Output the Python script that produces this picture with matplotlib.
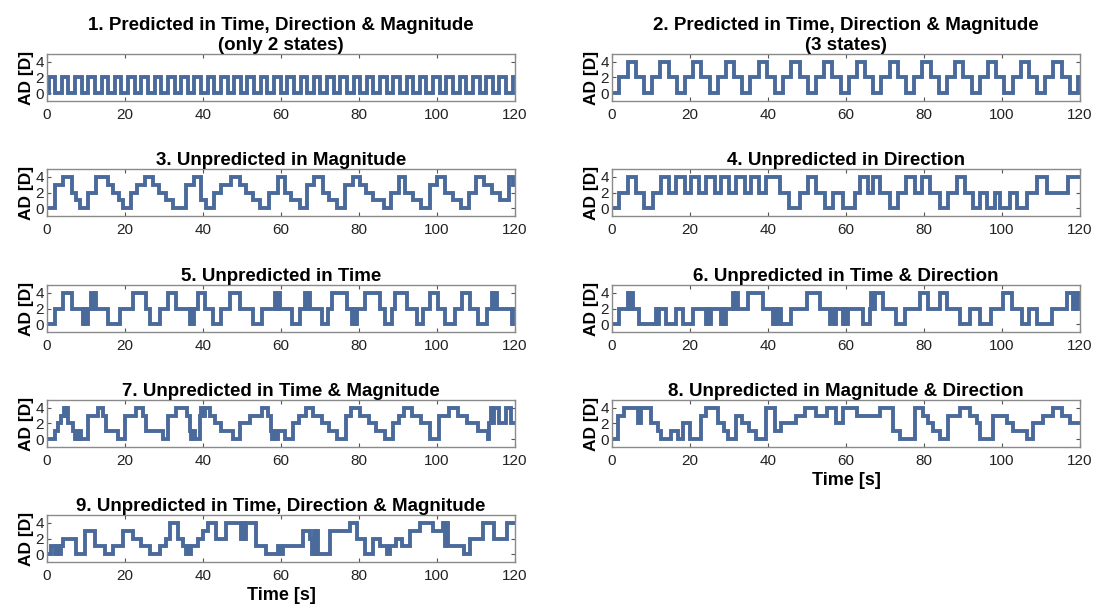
import numpy as np
from matplotlib import pyplot as plt

plt.rcParams['font.family'] = ['Liberation Sans', 'DejaVu Sans']

# each signal: switch times [s] and the level [D] that starts at that time
t1 = [0, 0.4, 2.1, 3.8, 5.5, 7.2, 8.9, 10.6, 12.3, 14.0, 15.7, 17.4, 19.1, 20.8, 22.5,
      24.2, 25.9, 27.6, 29.3, 31.0, 32.7, 34.4, 36.1, 37.8, 39.5, 41.2, 42.9, 44.6, 46.3,
      48.0, 49.7, 51.4, 53.1, 54.8, 56.5, 58.2, 59.9, 61.6, 63.3, 65.0, 66.7, 68.4, 70.1,
      71.8, 73.5, 75.2, 76.9, 78.6, 80.3, 82.0, 83.7, 85.4, 87.1, 88.8, 90.5, 92.2, 93.9,
      95.6, 97.3, 99.0, 100.7, 102.4, 104.1, 105.8, 107.5, 109.2, 110.9, 112.6, 114.3,
      116.0, 117.7, 119.4]
v1 = [0, 2, 0, 2, 0, 2, 0, 2, 0, 2, 0, 2, 0, 2, 0, 2, 0, 2, 0, 2, 0, 2, 0, 2, 0, 2,
      0, 2, 0, 2, 0, 2, 0, 2, 0, 2, 0, 2, 0, 2, 0, 2, 0, 2, 0, 2, 0, 2, 0, 2, 0, 2, 0,
      2, 0, 2, 0, 2, 0, 2, 0, 2, 0, 2, 0, 2, 0, 2, 0, 2, 0, 2]

t2 = [0, 1.9, 4.0, 6.1, 8.2, 10.3, 12.4, 14.5, 16.6, 18.7, 20.8, 22.9, 25.0, 27.1, 29.2,
      31.3, 33.4, 35.5, 37.6, 39.7, 41.8, 43.9, 46.0, 48.1, 50.2, 52.3, 54.4, 56.5, 58.6,
      60.7, 62.8, 64.9, 67.0, 69.1, 71.2, 73.3, 75.4, 77.5, 79.6, 81.7, 83.8, 85.9, 88.0,
      90.1, 92.2, 94.3, 96.4, 98.5, 100.6, 102.7, 104.8, 106.9, 109.0, 111.1, 113.2,
      115.3, 117.4, 119.5]
v2 = [0, 2, 4, 2, 0, 2, 4, 2, 0, 2, 4, 2, 0, 2, 4, 2, 0, 2, 4, 2, 0, 2, 4, 2, 0, 2, 4,
      2, 0, 2, 4, 2, 0, 2, 4, 2, 0, 2, 4, 2, 0, 2, 4, 2, 0, 2, 4, 2, 0, 2, 4, 2, 0, 2, 4,
      2, 0, 2]

t3 = [0, 2.0, 4.1, 6.3, 7.4, 8.5, 10.6, 12.6, 15.6, 16.8, 18.4, 19.6, 21.6, 23.0, 25.0,
      27.2, 28.6, 30.4, 32.2, 35.6, 37.6, 39.6, 40.8, 42.8, 44.6, 47.2, 49.4, 51.0, 52.8,
      54.6, 56.8, 59.2, 61.0, 62.6, 64.8, 66.6, 68.4, 70.8, 72.4, 74.4, 76.4, 78.4, 80.2,
      81.8, 83.6, 86.4, 88.2, 90.2, 91.8, 93.8, 96.0, 98.2, 100.0, 102.0, 104.0, 106.2,
      108.2, 110.0, 112.0, 114.0, 116.2, 118.4, 119.6]
v3 = [0, 3, 4, 2, 1, 0, 2, 4, 3, 2, 1, 0, 2, 3, 4, 3, 2, 1, 0, 3, 4, 1, 0, 2, 3, 4, 3,
      2, 1, 0, 2, 4, 2, 1, 0, 3, 4, 2, 1, 0, 3, 4, 3, 2, 1, 0, 2, 4, 2, 1, 0, 3, 4, 2, 1,
      0, 2, 4, 3, 2, 1, 4, 3]

t4 = [0, 1.9, 4.0, 6.1, 8.2, 10.5, 12.6, 14.7, 16.4, 18.6, 20.3, 22.4, 24.1, 26.3, 28.0,
      30.1, 31.8, 34.0, 35.7, 37.8, 39.6, 43.0, 45.5, 48.1, 50.3, 52.4, 54.5, 56.7, 59.2,
      62.2, 63.5, 65.7, 67.0, 68.7, 71.2, 73.4, 75.5, 77.7, 79.4, 81.5, 84.1, 86.2, 88.4,
      90.5, 92.6, 94.4, 96.1, 98.2, 99.5, 102.1, 103.8, 106.3, 108.9, 111.5, 117.0]
v4 = [0, 2, 4, 2, 0, 2, 4, 2, 4, 2, 4, 2, 4, 2, 4, 2, 4, 2, 4, 2, 4, 2, 0, 2, 4, 2, 0,
      2, 0, 2, 4, 2, 4, 2, 0, 2, 4, 2, 4, 2, 0, 2, 4, 2, 0, 2, 0, 2, 0, 2, 0, 2, 4, 2, 4]

t5 = [0, 2.0, 4.1, 6.3, 9.2, 9.6, 10.0, 10.4, 10.9, 11.4, 11.8, 12.2, 12.6, 13.1, 15.7,
      18.6, 22.1, 25.5, 26.3, 28.9, 31.0, 33.2, 36.6, 37.0, 37.4, 37.8, 38.3, 38.8, 40.5,
      42.6, 44.7, 46.9, 49.4, 52.9, 55.0, 58.4, 58.8, 59.2, 59.7, 62.7, 64.8, 66.1, 66.6,
      67.0, 67.5, 68.3, 70.4, 72.1, 73.0, 76.8, 78.1, 78.5, 78.9, 79.4, 80.2, 81.5, 85.4,
      86.7, 88.4, 89.2, 92.2, 94.8, 96.5, 98.2, 100.3, 102.0, 104.6, 106.3, 108.5, 110.6,
      112.7, 114.0, 114.5, 115.0, 115.5, 116.2, 119.2, 119.5]
v5 = [0, 2, 4, 2, 0, 2, 0, 2, 2, 4, 2, 4, 2, 2, 0, 2, 4, 2, 0, 2, 4, 2, 0, 2, 0, 2,
      2, 4, 2, 0, 2, 4, 2, 0, 2, 4, 2, 4, 2, 0, 2, 4, 2, 4, 2, 2, 0, 2, 4, 2, 0, 2, 0,
      2, 2, 4, 2, 0, 2, 4, 2, 0, 2, 4, 2, 0, 2, 4, 2, 0, 2, 4, 2, 4, 2, 2, 0, 2]

t6 = [0, 1.9, 4.0, 4.5, 5.0, 5.3, 7.0, 11.3, 11.7, 12.1, 12.6, 13.9, 16.4, 18.2, 20.7,
      24.1, 24.5, 24.9, 25.4, 28.0, 28.4, 28.8, 29.3, 31.0, 31.4, 31.8, 32.2, 32.7, 34.8,
      38.7, 41.3, 41.7, 42.1, 42.6, 43.4, 46.0, 49.9, 53.3, 55.8, 56.7, 57.1, 57.5, 59.2,
      59.6, 60.0, 60.5, 64.4, 66.1, 66.5, 66.9, 67.4, 69.5, 72.9, 75.1, 78.9, 81.1, 84.1,
      85.8, 89.2, 91.8, 94.3, 97.3, 100.3, 102.5, 105.1, 106.8, 108.9, 112.8, 116.6,
      118.3, 118.7, 119.1, 119.5]
v6 = [0, 2, 4, 2, 4, 2, 0, 2, 0, 2, 2, 0, 2, 0, 2, 0, 2, 0, 2, 0, 2, 0, 2, 4, 2, 4,
      2, 2, 4, 2, 0, 2, 0, 2, 0, 2, 4, 2, 0, 2, 0, 2, 0, 2, 0, 2, 0, 2, 4, 2, 4, 2, 0,
      2, 4, 2, 4, 2, 0, 2, 0, 2, 4, 2, 0, 2, 0, 2, 4, 2, 4, 2, 4, 4]

t7 = [0, 2.0, 2.9, 3.6, 4.3, 4.7, 5.1, 5.4, 6.7, 7.2, 7.6, 8.0, 8.4, 8.8, 10.5, 13.1,
      14.4, 15.2, 18.2, 20.0, 22.9, 24.6, 25.5, 29.8, 31.0, 33.2, 35.8, 36.6, 37.0, 37.4,
      38.0, 39.2, 39.6, 40.0, 40.5, 41.7, 43.0, 44.7, 47.7, 49.4, 52.0, 55.0, 56.6, 57.4,
      57.8, 58.2, 58.6, 59.2, 61.0, 63.2, 64.6, 66.4, 68.2, 70.4, 72.2, 74.4, 76.6, 78.0,
      80.2, 82.6, 84.4, 86.6, 88.8, 90.2, 91.6, 93.6, 96.0, 98.2, 100.6, 103.0, 105.4,
      107.6, 110.6, 113.0, 113.4, 113.8, 114.2, 114.6, 115.8, 117.6, 119.0]
v7 = [0, 1, 2, 3, 4, 3, 4, 2, 1, 0, 1, 0, 1, 0, 3, 4, 3, 1, 0, 3, 4, 3, 1, 0, 3, 4,
      3, 1, 0, 1, 0, 3, 4, 3, 4, 3, 2, 1, 0, 2, 3, 4, 3, 1, 0, 1, 0, 1, 0, 2, 3, 4, 3,
      2, 1, 0, 3, 4, 3, 2, 1, 0, 2, 3, 4, 3, 2, 0, 3, 4, 3, 2, 1, 0, 2, 4, 2, 4, 2, 4,
      2, 1]

t8 = [0, 1.5, 3.2, 6.6, 7.4, 10.0, 11.7, 12.6, 15.2, 16.9, 18.2, 19.9, 22.9, 24.1,
      27.1, 28.8, 29.7, 31.8, 33.4, 35.0, 37.0, 39.6, 41.7, 43.4, 47.3, 49.4, 52.4, 55.0,
      57.5, 59.2, 62.7, 68.7, 72.1, 73.8, 77.7, 79.8, 81.1, 82.4, 84.0, 86.2, 89.2, 91.8,
      93.5, 94.3, 97.8, 101.2, 102.9, 106.3, 108.0, 110.6, 113.2, 115.3, 117.4]
v8 = [0, 3, 4, 2, 4, 2, 1, 0, 1, 0, 2, 0, 3, 4, 2, 1, 0, 3, 2, 1, 0, 4, 1, 2, 3, 4,
      3, 4, 2, 4, 3, 4, 1, 0, 4, 3, 2, 1, 0, 3, 4, 3, 2, 0, 3, 2, 1, 0, 2, 3, 4, 3, 2]

t9 = [0, 1.1, 2.0, 2.6, 3.2, 3.6, 4.1, 7.5, 9.7, 12.2, 14.8, 16.9, 19.5, 22.1, 24.2,
      26.3, 28.9, 30.6, 31.5, 33.6, 34.9, 35.7, 36.2, 36.6, 37.0, 38.7, 40.0, 41.3, 43.4,
      46.0, 49.8, 50.2, 50.6, 51.0, 53.7, 56.2, 59.2, 59.8, 60.4, 61.0, 65.7, 67.5, 68.0,
      68.4, 68.8, 69.2, 69.6, 72.5, 77.7, 79.4, 81.5, 83.7, 85.4, 87.1, 88.0, 89.6, 91.0,
      93.0, 95.6, 99.0, 101.6, 102.0, 102.4, 102.9, 104.2, 106.8, 108.5, 111.9, 114.5,
      117.9]
v9 = [0, 1, 0, 1, 0, 1, 2, 0, 3, 1, 0, 1, 3, 2, 1, 0, 1, 2, 4, 2, 1, 0, 1, 0, 1, 2,
      3, 4, 2, 4, 2, 4, 2, 4, 1, 0, 1, 0, 1, 1, 3, 2, 0, 3, 0, 3, 0, 3, 4, 2, 0, 2, 1,
      0, 1, 2, 1, 3, 4, 3, 4, 1, 4, 1, 1, 0, 2, 4, 2, 4, 2]

titles = ["1. Predicted in Time, Direction & Magnitude\n(only 2 states)",
          "2. Predicted in Time, Direction & Magnitude\n(3 states)",
          "3. Unpredicted in Magnitude",
          "4. Unpredicted in Direction",
          "5. Unpredicted in Time",
          "6. Unpredicted in Time & Direction",
          "7. Unpredicted in Time & Magnitude",
          "8. Unpredicted in Magnitude & Direction",
          "9. Unpredicted in Time, Direction & Magnitude"]
signals = [(t1, v1), (t2, v2), (t3, v3), (t4, v4), (t5, v5),
           (t6, v6), (t7, v7), (t8, v8), (t9, v9)]

W, H = 1101, 609
fig = plt.figure(figsize=(W / 100, H / 100), dpi=100)

col_x = [47, 612]
row_top = [54, 169, 285, 400, 515]
ax_w, ax_h = 468, 47
line_color = '#4a6a9c'

for i, (title, (t, v)) in enumerate(zip(titles, signals)):
    r, c = divmod(i, 2)
    n = min(len(t), len(v))
    t, v = list(t[:n]), list(v[:n])
    ax = fig.add_axes([col_x[c] / W, 1 - (row_top[r] + ax_h) / H, ax_w / W, ax_h / H])
    ax.step(t + [120], v + [v[-1]], where='post', color=line_color,
            lw=2.8, solid_joinstyle='miter')
    ax.set_xlim(0, 120)
    ax.set_ylim(-1, 5)
    ax.set_xticks(np.arange(0, 121, 20))
    ax.set_yticks([0, 2, 4])
    ax.tick_params(direction='in', length=3, width=0.8, top=True, right=True,
                   labelsize=11, pad=5, color='#555555', labelcolor='#222222')
    ax.tick_params(axis='y', pad=2)
    for s in ax.spines.values():
        s.set_color('#8a8a8a')
        s.set_linewidth(1.0)
    ax.set_title(title, fontsize=13.5, fontweight='bold', pad=3, linespacing=1.25)
    ax.set_ylabel('AD [D]', fontsize=12.5, fontweight='bold', labelpad=1)
    if i in (7, 8):
        ax.set_xlabel('Time [s]', fontsize=13, fontweight='bold', labelpad=3)

fig.savefig('out.png', dpi=100)
